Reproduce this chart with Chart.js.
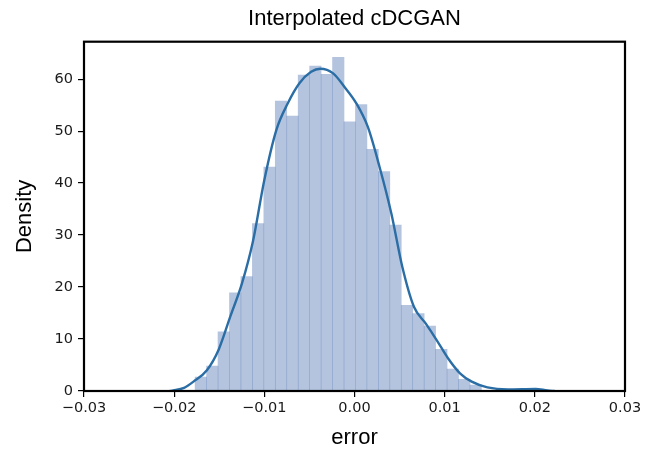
<!DOCTYPE html>
<html>
<head>
<meta charset="utf-8">
<script src="https://cdn.jsdelivr.net/npm/chart.js@4.4.1/dist/chart.umd.min.js"></script>
<style>
  html, body { margin: 0; padding: 0; background: #fff; }
  #wrap { width: 645px; height: 452px; }
</style>
</head>
<body>
<div id="wrap"><canvas id="chart"></canvas></div>
<script>
// histogram bins (centre of each bin) and densities
var binCenters = [-0.01704, -0.01577, -0.01450, -0.01323, -0.01196, -0.01069, -0.00942, -0.00815,
                  -0.00688, -0.00561, -0.00434, -0.00307, -0.00180, -0.00053, 0.00074, 0.00201,
                  0.00328, 0.00455, 0.00582, 0.00709, 0.00836, 0.00963, 0.01090, 0.01217, 0.01344];
var binHeights = [2.7, 4.8, 11.4, 18.9, 22.0, 32.2, 43.1, 55.8,
                  52.9, 60.8, 62.5, 60.9, 64.2, 51.8, 55.1, 46.5,
                  42.2, 31.9, 16.5, 14.9, 12.5, 8.0, 4.2, 2.25, 1.15];

// kde curve
var kdeX = [-0.0205, -0.0201, -0.0189, -0.01786, -0.01637, -0.01508, -0.01378, -0.01248, -0.01126,
            -0.0100, -0.00867, -0.00741, -0.00611, -0.00481, -0.00378, -0.00237, -0.00111,
            0.00022, 0.00148, 0.00278, 0.00408, 0.0053, 0.00659, 0.00789, 0.00911, 0.01037,
            0.0117, 0.0130, 0.01474, 0.0170, 0.0201, 0.0214, 0.0222];
var kdeY = [0, 0.1, 0.6, 1.8, 4.0, 7.9, 14.3, 20.7, 28.8,
            40.6, 50.2, 55.3, 59.2, 61.4, 62.0, 61.1, 58.5,
            55.3, 50.8, 43.1, 34.2, 23.9, 16.2, 13.0, 9.8, 6.3,
            3.4, 1.8, 0.7, 0.3, 0.4, 0.1, 0];

var xTicks = [-0.03, -0.02, -0.01, 0.00, 0.01, 0.02, 0.03];
var yTicks = [0, 10, 20, 30, 40, 50, 60];

var histData = binCenters.map((c, i) => ({x: c, y: binHeights[i]}));
var kdeData = kdeX.map((x, i) => ({x: x, y: kdeY[i]}));

var tickFont = {family: "DejaVu Sans", size: 14.5};
var labelFont = {family: "Liberation Sans", size: 22};

var framePlugin = {
  id: "frame",
  afterDraw(chart) {
    var a = chart.chartArea, ctx = chart.ctx;
    ctx.save();
    ctx.strokeStyle = "#000";
    ctx.lineWidth = 2.2;
    ctx.strokeRect(a.left, a.top, a.right - a.left, a.bottom - a.top);
    ctx.restore();
  }
};

var canvas = document.getElementById("chart");
var config = {
  type: "bar",
  data: {
    datasets: [{
      type: "line",
      label: "kde",
      data: kdeData,
      borderColor: "#2b6ea6",
      borderWidth: 2.4,
      pointRadius: 0,
      cubicInterpolationMode: "monotone",
      fill: false,
      order: 1
    }, {
      type: "bar",
      label: "hist",
      data: histData,
      backgroundColor: "rgba(76, 114, 176, 0.42)",
      borderWidth: 0,
      barPercentage: 1.0,
      categoryPercentage: 1.0,
      grouped: false,
      order: 2
    }]
  },
  options: {
    responsive: true,
    maintainAspectRatio: false,
    animation: false,
    layout: {padding: {left: 0, right: 20, top: 0, bottom: 0}},
    plugins: {
      legend: {display: false},
      tooltip: {enabled: false},
      title: {
        display: true,
        text: "Interpolated cDCGAN",
        color: "#000",
        fullSize: false,
        font: {family: "Liberation Sans", size: 22, weight: "normal"},
        padding: {top: 5.8, bottom: 9.5}
      }
    },
    scales: {
      x: {
        type: "linear",
        offset: false,
        min: -0.03,
        max: 0.03,
        afterBuildTicks: (s) => { s.ticks = xTicks.map(v => ({value: v})); },
        afterFit: (s) => { s.height = 61; },
        ticks: {
          color: "#1a1a1a",
          font: tickFont,
          padding: 3,
          maxRotation: 0,
          callback: (v) => v.toFixed(2).replace("-", "\u2212")
        },
        grid: {display: true, offset: false, drawOnChartArea: false, drawTicks: true, tickLength: 6, color: "#000", lineWidth: 1.2},
        border: {display: true, color: "#000", width: 2},
        title: {display: true, text: "error", color: "#000", font: labelFont, padding: {top: 0, bottom: 1}}
      },
      y: {
        min: 0,
        max: 67.2,
        afterBuildTicks: (s) => { s.ticks = yTicks.map(v => ({value: v})); },
        afterFit: (s) => { s.width = 84; },
        ticks: {color: "#1a1a1a", font: tickFont, padding: 5},
        grid: {display: true, offset: false, drawOnChartArea: false, drawTicks: true, tickLength: 6, color: "#000", lineWidth: 1.2},
        border: {display: true, color: "#000", width: 2},
        title: {display: true, text: "Density", color: "#000", font: labelFont, padding: {top: 12, bottom: 0}}
      }
    }
  },
  plugins: [framePlugin]
};

var barchart = new Chart(canvas, config);
</script>
</body>
</html>
